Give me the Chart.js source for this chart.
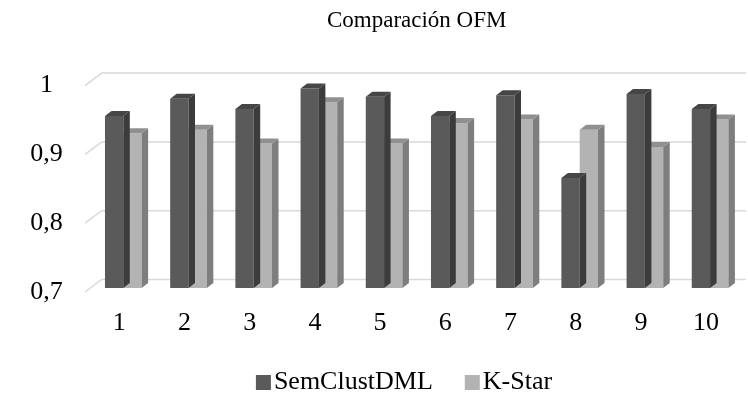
<!DOCTYPE html>
<html>
<head>
<meta charset="utf-8">
<script src="https://cdn.jsdelivr.net/npm/chart.js@4.4.1/dist/chart.umd.min.js"></script>
<style>
  html, body { margin: 0; padding: 0; background: #fff; }
  #wrap { width: 748px; height: 395px; }
</style>
</head>
<body>
<div id="wrap"><canvas id="ofm"></canvas></div>
<script>
var categories = ["1", "2", "3", "4", "5", "6", "7", "8", "9", "10"];
var semClustDML = [0.95, 0.975, 0.96, 0.99, 0.978, 0.95, 0.98, 0.86, 0.982, 0.96];
var kStar = [0.925, 0.93, 0.91, 0.97, 0.91, 0.94, 0.945, 0.93, 0.905, 0.945];
var yTicks = [0.7, 0.8, 0.9, 1];

var FONT = "'Liberation Serif', 'Times New Roman', serif";
// front, top, side shades for each series
var shades = [
    { front: '#5a5a5a', top: '#464646', side: '#3c3c3c' },
    { front: '#b3b3b3', top: '#909090', side: '#7e7e7e' }
];
var DX = 6.5, DY = -5;

var fakeDepth = {
    id: 'fakeDepth',
    beforeDatasetsDraw: function (chart) {
        var ctx = chart.ctx, area = chart.chartArea, y = chart.scales.y;
        ctx.save();
        ctx.strokeStyle = '#d9d9d9';
        ctx.lineWidth = 1.5;
        yTicks.forEach(function (v) {
            var py = y.getPixelForValue(v);
            ctx.beginPath();
            ctx.moveTo(area.left - 5.7, py + 4);
            ctx.lineTo(area.left + 11, py - 8.5);
            ctx.lineTo(746, py - 8.5);
            ctx.stroke();
        });
        ctx.restore();
    },
    afterDatasetDraw: function (chart, args) {
        var ctx = chart.ctx, sh = shades[args.index];
        var base = chart.chartArea.bottom;
        ctx.save();
        args.meta.data.forEach(function (bar) {
            var p = bar.getProps(['x', 'y', 'width'], true);
            var l = p.x - p.width / 2, r = p.x + p.width / 2;
            // side
            ctx.fillStyle = sh.side;
            ctx.beginPath();
            ctx.moveTo(r, base);
            ctx.lineTo(r + DX, base + DY);
            ctx.lineTo(r + DX, p.y + DY);
            ctx.lineTo(r, p.y);
            ctx.closePath();
            ctx.fill();
            // top
            ctx.fillStyle = sh.top;
            ctx.beginPath();
            ctx.moveTo(l, p.y);
            ctx.lineTo(l + DX, p.y + DY);
            ctx.lineTo(r + DX, p.y + DY);
            ctx.lineTo(r, p.y);
            ctx.closePath();
            ctx.fill();
        });
        ctx.restore();
    },
    afterDraw: function (chart) {
        var ctx = chart.ctx;
        ctx.save();
        ctx.font = '26px ' + FONT;
        ctx.textBaseline = 'alphabetic';
        var ds = chart.data.datasets;
        var widths = ds.map(function (d) { return 15 + 3 + ctx.measureText(d.label).width; });
        var total = widths[0] + 32 + widths[1];
        var x = 404 - total / 2;
        ds.forEach(function (d, i) {
            ctx.fillStyle = shades[i].front;
            ctx.fillRect(x, 375, 15, 15);
            ctx.fillStyle = '#000';
            ctx.fillText(d.label, x + 18, 389);
            x += widths[i] + 32;
        });
        ctx.restore();
    }
};

new Chart(document.getElementById('ofm').getContext('2d'), {
    type: 'bar',
    data: {
        labels: categories,
        datasets: [
            { label: 'SemClustDML', data: semClustDML, backgroundColor: shades[0].front,
              categoryPercentage: 0.562, barPercentage: 1 },
            { label: 'K-Star', data: kStar, backgroundColor: shades[1].front,
              categoryPercentage: 0.562, barPercentage: 1 }
        ]
    },
    options: {
        responsive: true,
        maintainAspectRatio: false,
        animation: false,
        layout: { padding: { right: 5.3 } },
        plugins: {
            legend: { display: false },
            tooltip: { enabled: false },
            title: {
                display: true,
                fullSize: false,
                text: 'Comparación OFM',
                color: '#000',
                font: { family: FONT, size: 23, weight: 'normal' },
                padding: { top: 7, bottom: 47 }
            }
        },
        scales: {
            x: {
                grid: { display: false, drawTicks: false },
                border: { display: false },
                ticks: { color: '#000', font: { family: FONT, size: 26 }, padding: 20, labelOffset: -4 },
                afterFit: function (s) { s.height = 107; }
            },
            y: {
                min: 0.7,
                max: 1,
                grid: { display: false, drawTicks: false },
                border: { display: false },
                afterBuildTicks: function (s) { s.ticks = yTicks.map(function (v) { return { value: v }; }); },
                ticks: {
                    color: '#000',
                    font: { family: FONT, size: 26 },
                    padding: 28,
                    crossAlign: 'center',
                    labelOffset: 4,
                    callback: function (v) { return String(+v.toFixed(1)).replace('.', ','); }
                },
                afterFit: function (s) { s.width = 90.7; }
            }
        }
    },
    plugins: [fakeDepth]
});
</script>
</body>
</html>
